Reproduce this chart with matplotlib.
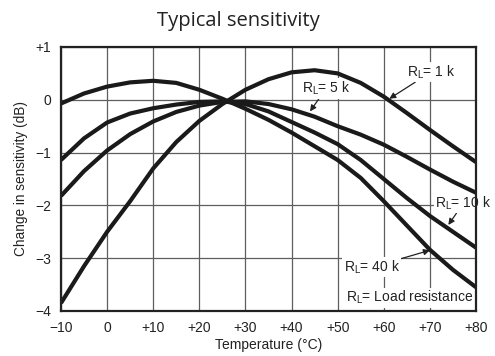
import numpy as np
import matplotlib
matplotlib.use("Agg")
import matplotlib.pyplot as plt

plt.rcParams['font.family'] = ['Liberation Sans', 'DejaVu Sans']
plt.rcParams['mathtext.fontset'] = 'custom'
plt.rcParams['mathtext.rm'] = 'Liberation Sans'

# temperature (deg C) and change in sensitivity (dB)
temp = [-10, -5, 0, 5, 10, 15, 20, 25, 30, 35, 40, 45, 50, 55, 60, 65, 70, 75, 80]
rl_1k = [-3.85, -3.15, -2.5, -1.92, -1.3, -0.8, -0.4, -0.08, 0.19, 0.39, 0.52, 0.56, 0.5, 0.32, 0.06, -0.25, -0.57, -0.88, -1.18]
rl_5k = [-1.82, -1.35, -0.96, -0.65, -0.41, -0.23, -0.11, -0.04, -0.03, -0.08, -0.18, -0.32, -0.5, -0.66, -0.85, -1.08, -1.32, -1.55, -1.76]
rl_10k = [-1.14, -0.73, -0.43, -0.26, -0.16, -0.09, -0.04, -0.03, -0.08, -0.22, -0.42, -0.62, -0.84, -1.14, -1.5, -1.86, -2.2, -2.5, -2.8]
rl_40k = [-0.07, 0.12, 0.25, 0.33, 0.36, 0.32, 0.19, 0.02, -0.17, -0.38, -0.62, -0.88, -1.14, -1.48, -1.92, -2.38, -2.84, -3.22, -3.55]

xticks = [-10, 0, 10, 20, 30, 40, 50, 60, 70, 80]
xlabels = ['\u221210', '0', '+10', '+20', '+30', '+40', '+50', '+60', '+70', '+80']
yticks = [-4, -3, -2, -1, 0, 1]
ylabels = ['\u22124', '\u22123', '\u22122', '\u22121', '0', '+1']

fig = plt.figure(figsize=(4.95, 3.56), dpi=100)
ax = fig.add_axes([61/495, 45/356, 415/495, 264/356])

for y in [rl_1k, rl_5k, rl_10k, rl_40k]:
    ax.plot(temp, y, color='#1a1a1a', lw=3.0, solid_capstyle='butt',
            solid_joinstyle='round', zorder=3)

ax.set_xlim(-10, 80)
ax.set_ylim(-4, 1)
ax.set_xticks(xticks)
ax.set_xticklabels(xlabels)
ax.set_yticks(yticks)
ax.set_yticklabels(ylabels)
ax.tick_params(length=0, labelsize=10, pad=7, colors='#222222')
ax.grid(True, color='#5e5e5e', lw=0.9)
for s in ax.spines.values():
    s.set_linewidth(1.6)
    s.set_color('#222222')
    s.set_zorder(4)

ax.set_xlabel('Temperature (\u00b0C)', fontsize=10, labelpad=2, color='#222222')
ax.set_ylabel('Change in sensitivity (dB)', fontsize=9.8, labelpad=5, color='#222222')

fig.text(238/495, 1 - 21/356, 'Typical sensitivity', family='Open Sans',
         fontsize=14.5, ha='center', va='center', color='#222222')

# labels sit above the grid but below the curves
box = dict(facecolor='white', edgecolor='none', pad=1)
arrow = dict(arrowstyle='-|>', color='#222222', lw=0.9, mutation_scale=9, shrinkA=0, shrinkB=0)
lab = r'$\mathregular{R_L}$= '
fs = 10

ax.annotate(lab + '1 k', xy=(61.2, 0.02), xytext=(65, 0.36), fontsize=fs, ha='left', va='bottom',
            bbox=box, arrowprops=arrow, zorder=2.5, color='#222222')
ax.annotate(lab + '5 k', xy=(44, -0.22), xytext=(47.5, 0.05), fontsize=fs, ha='center', va='bottom',
            bbox=box, arrowprops=arrow, zorder=2.5, color='#222222')
ax.annotate(lab + '10 k', xy=(74, -2.37), xytext=(77.3, -2.12), fontsize=fs, ha='center', va='bottom',
            bbox=box, arrowprops=arrow, zorder=2.5, color='#222222', annotation_clip=False)
ax.annotate(lab + '40 k', xy=(70, -2.85), xytext=(63.5, -3.17), fontsize=fs, ha='right', va='center',
            bbox=box, arrowprops=arrow, zorder=2.5, color='#222222')
ax.text(79.5, -3.75, lab + 'Load resistance', fontsize=fs, ha='right', va='center',
        bbox=box, zorder=2.5, color='#222222')

fig.savefig('out.png', dpi=100)
